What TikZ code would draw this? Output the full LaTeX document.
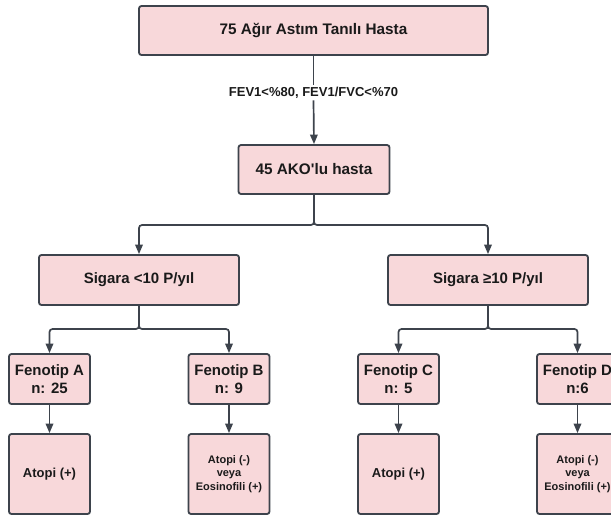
\documentclass[tikz,border=0pt]{standalone}
\usepackage{fontspec}
\setmainfont{Liberation Sans}[Ligatures=TeXOff]
\usetikzlibrary{arrows.meta}
\definecolor{boxfill}{HTML}{F8D8DA}
\definecolor{boxline}{HTML}{3D434C}
\definecolor{txt}{HTML}{1A1A1A}
\tikzset{
  box/.style={draw=boxline, fill=boxfill, line width=1.8pt, rounded corners=2.5pt,
    inner sep=0pt, align=center, text=txt, font=\bfseries},
  conn/.style={draw=boxline, line width=1.7pt, rounded corners=3pt},
  arr/.style={conn, -{Triangle[length=9.5pt,width=7.5pt]}},
  lbl/.style={fill=white, inner sep=2pt, text=txt, font=\bfseries\fontsize{13}{15}\selectfont},
}
\begin{document}
\begin{tikzpicture}[x=1pt,y=-1pt]
\useasboundingbox (0,0) rectangle (611,515);
\clip (0,0) rectangle (611,515);
\fill[white] (0,0) rectangle (611,515);
% boxes
\node[box, minimum width=349pt, minimum height=49pt, font=\bfseries\fontsize{15.3}{18}\selectfont] (top) at (313.5,30.5) {75 Ağır Astım Tanılı Hasta};
\node[lbl] (cond) at (313.5,92.5) {FEV1<\%80, FEV1/FVC<\%70};
\node[box, minimum width=151pt, minimum height=49pt, font=\bfseries\fontsize{15.3}{18}\selectfont] (ako) at (314,169.5) {45 AKO'lu hasta};
\node[box, minimum width=200pt, minimum height=50pt, font=\bfseries\fontsize{15}{17}\selectfont] (s1) at (139,280) {Sigara <10 P/yıl};
\node[box, minimum width=200pt, minimum height=50pt, font=\bfseries\fontsize{15}{17}\selectfont] (s2) at (488,280) {Sigara ≥10 P/yıl};
\tikzset{fen/.style={box, minimum width=81pt, minimum height=50pt, font=\bfseries\fontsize{15}{18}\selectfont}}
\node[fen] (fA) at (49.5,379) {Fenotip A\\n: 25};
\node[fen] (fB) at (229,379) {Fenotip B\\n: 9};
\node[fen] (fC) at (398.5,379) {Fenotip C\\n: 5};
\node[fen] (fD) at (577.5,379) {Fenotip D\\n:6};
\tikzset{res/.style={box, minimum width=81pt, minimum height=80pt}}
\node[res, font=\bfseries\fontsize{13}{15}\selectfont] (rA) at (49.5,474) {Atopi (+)};
\node[res, font=\bfseries\fontsize{11}{13.5}\selectfont] (rB) at (229,474) {Atopi (-)\\veya\\Eosinofili (+)};
\node[res, font=\bfseries\fontsize{13}{15}\selectfont] (rC) at (398.5,474) {Atopi (+)};
\node[res, font=\bfseries\fontsize{11}{13.5}\selectfont] (rD) at (577.5,474) {Atopi (-)\\veya\\Eosinofili (+)};
% junctions
\coordinate (j0) at (314,225);
\coordinate (j1) at (139,329);
\coordinate (j2) at (488,329);
% connectors
\draw[conn] (top.south) -- (cond.north);
\draw[arr] (cond.south) -- (ako.north);
\draw[arr] (ako.south) -- (j0) -| (s1.north);
\draw[arr] (ako.south) -- (j0) -| (s2.north);
\draw[arr] (s1.south) -- (j1) -| (fA.north);
\draw[arr] (s1.south) -- (j1) -| (fB.north);
\draw[arr] (s2.south) -- (j2) -| (fC.north);
\draw[arr] (s2.south) -- (j2) -| (fD.north);
\draw[arr] (fA.south) -- (rA.north);
\draw[arr] (fB.south) -- (rB.north);
\draw[arr] (fC.south) -- (rC.north);
\draw[arr] (fD.south) -- (rD.north);
\end{tikzpicture}
\end{document}
